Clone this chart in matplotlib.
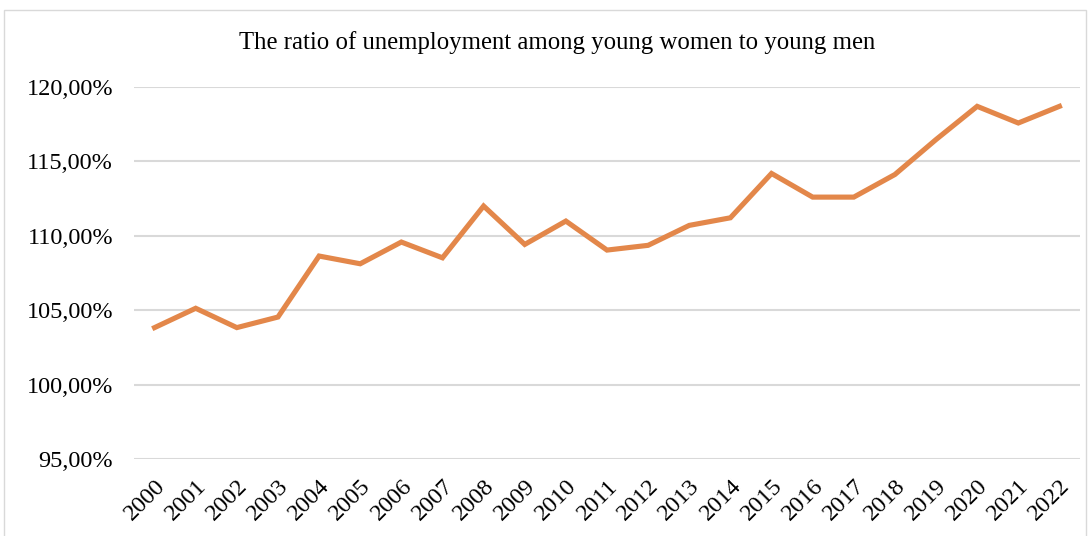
import matplotlib
matplotlib.use("Agg")
import matplotlib.pyplot as plt
from matplotlib.patches import Rectangle

years = [str(y) for y in range(2000, 2023)]
ratio = [103.83, 105.13, 103.83, 104.54, 108.64, 108.12, 109.58, 108.52, 112.0,
         109.42, 110.99, 109.04, 109.36, 110.70, 111.21, 114.19, 112.60, 112.60,
         114.12, 116.47, 118.70, 117.58, 118.70]
yticks = [95, 100, 105, 110, 115, 120]
title = "The ratio of unemployment among young women to young men"

plt.rcParams['font.family'] = ['Liberation Serif', 'DejaVu Serif']

fig = plt.figure(figsize=(10.91, 5.36), dpi=100)
W, H = 1091, 536
ax = fig.add_axes([134 / W, 1 - 459 / H, (1080 - 134) / W, (459 - 87) / H])

x = list(range(len(years)))
ax.plot(x, ratio, color='#E3874A', linewidth=3.7, solid_joinstyle='miter', zorder=3)

ax.set_xlim(-0.5, len(years) - 0.5)
ax.set_ylim(95, 120)
ax.set_yticks(yticks)
ax.set_yticklabels([f"{v:.2f}".replace('.', ',') + "%" for v in yticks], fontsize=17.5)
ax.set_xticks(x)
ax.set_xticklabels(years, rotation=45, ha='right', rotation_mode='anchor', fontsize=17.5)
ax.tick_params(axis='both', length=0)
ax.tick_params(axis='y', pad=15)
ax.tick_params(axis='x', pad=12)
ax.grid(axis='y', color='#D9D9D9', linewidth=1.5)
ax.set_axisbelow(True)
for s in ax.spines.values():
    s.set_visible(False)

fig.text(557 / W, 1 - 43 / H, title, ha='center', va='center', fontsize=17.8)

fig.patches.append(Rectangle((4 / W, -0.01), (1086 - 4) / W, 1 - 10 / H + 0.01,
                             transform=fig.transFigure, fill=False,
                             edgecolor='#D9D9D9', linewidth=1))

fig.savefig("out.png", dpi=100)
